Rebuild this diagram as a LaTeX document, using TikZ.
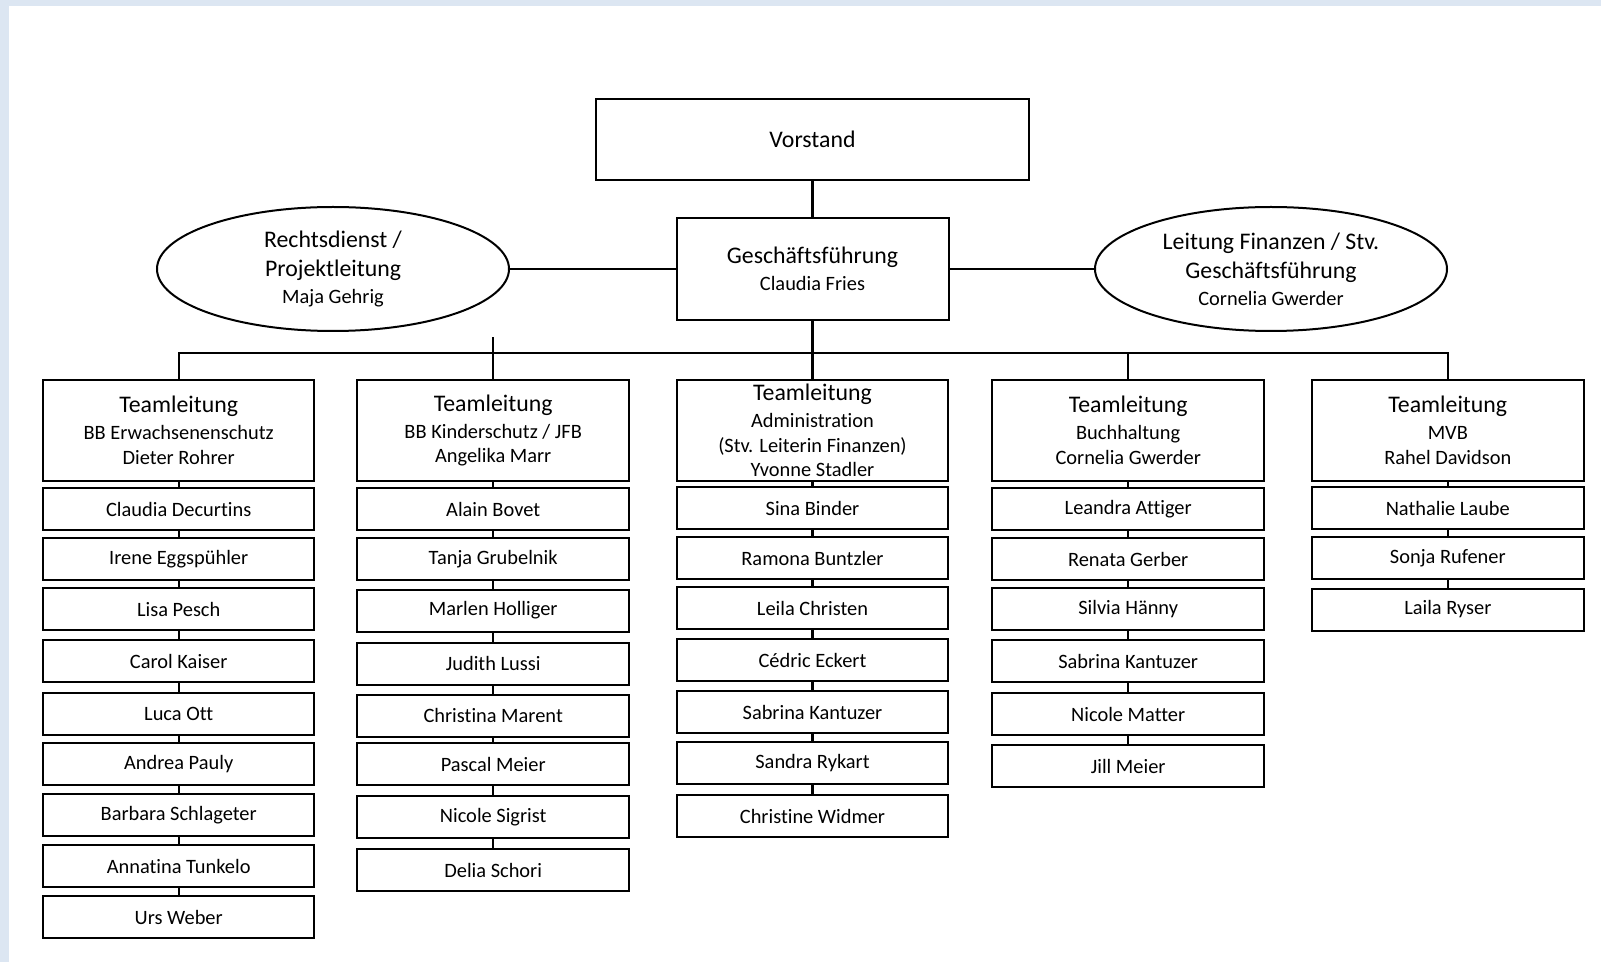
\documentclass[tikz,border=0pt]{standalone}
\usepackage{fontspec}
\setmainfont{Carlito}[Ligatures={CommonOff,ContextualOff}, Contextuals=AlternateOff]
\usetikzlibrary{shapes.geometric}

\definecolor{frameblue}{HTML}{DCE6F2}
\newcommand{\headfont}{\fontsize{11.9}{14.5}\selectfont}
\newcommand{\namefont}{\fontsize{10.2}{12.4}\selectfont}

\tikzset{
  unitbox/.style={draw, line width=1pt, align=center, inner sep=1pt},
  leadbox/.style={unitbox, minimum width=135.75pt, minimum height=50.5pt, font=\namefont},
  member/.style={unitbox, minimum width=135.75pt, minimum height=21pt, font=\namefont},
  oval/.style={ellipse, draw, line width=1pt, minimum width=176pt, minimum height=62pt,
               inner sep=0pt, align=center, font=\headfont},
  link/.style={line width=1.2pt}
}

\begin{document}
\begin{tikzpicture}[x=0.5pt, y=-0.5pt]
  % frame
  \useasboundingbox (0,0) rectangle (1601,962);
  \fill[frameblue] (0,0) rectangle (1601,962);
  \fill[white] (9,6) rectangle (1601,962);

  % top
  \node[unitbox, minimum width=216.5pt, minimum height=40.5pt, font=\headfont] (vorstand) at (812.5,139.5) {Vorstand};
  \node[leadbox, minimum width=136pt, minimum height=51pt] (gf) at (812.5,269) {{\headfont Geschäftsführung}\\[1pt] Claudia Fries};
  \node[oval] (recht) at (333,269) {Rechtsdienst /\\ Projektleitung\\[-1pt] {\namefont Maja Gehrig}};
  \node[oval] (finanz) at (1271,269) {Leitung Finanzen / Stv.\\ Geschäftsführung\\[-1pt] {\namefont Cornelia Gwerder}};

  % team leads
  \node[leadbox] (tl1) at (178.7,430.5) {{\headfont Teamleitung}\\[1pt] BB Erwachsenenschutz\\ Dieter Rohrer};
  \node[leadbox] (tl2) at (493.2,430.5) {{\headfont Teamleitung}\\[1pt] BB Kinderschutz / JFB\\ Angelika Marr};
  \node[leadbox, inner ysep=0pt] (tl3) at (812.5,430.5) {{\headfont Teamleitung}\\[1pt] Administration\\ (Stv. Leiterin Finanzen)\\ Yvonne Stadler};
  \node[leadbox] (tl4) at (1128.2,430.5) {{\headfont Teamleitung}\\[1pt] Buchhaltung\\ Cornelia Gwerder};
  \node[leadbox] (tl5) at (1447.8,430.5) {{\headfont Teamleitung}\\[1pt] MVB\\ Rahel Davidson};

  % column 1
  \node[member] (m11) at (178.7,509) {Claudia Decurtins};
  \node[member] (m12) at (178.7,559) {Irene Eggspühler};
  \node[member] (m13) at (178.7,609) {Lisa Pesch};
  \node[member] (m14) at (178.7,661) {Carol Kaiser};
  \node[member] (m15) at (178.7,714) {Luca Ott};
  \node[member] (m16) at (178.7,764) {Andrea Pauly};
  \node[member] (m17) at (178.7,815) {Barbara Schlageter};
  \node[member] (m18) at (178.7,866) {Annatina Tunkelo};
  \node[member] (m19) at (178.7,917) {Urs Weber};

  % column 2
  \node[member] (m21) at (493.2,509) {Alain Bovet};
  \node[member] (m22) at (493.2,559) {Tanja Grubelnik};
  \node[member] (m23) at (493.2,610.5) {Marlen Holliger};
  \node[member] (m24) at (493.2,663.6) {Judith Lussi};
  \node[member] (m25) at (493.2,715.7) {Christina Marent};
  \node[member] (m26) at (493.2,764) {Pascal Meier};
  \node[member] (m27) at (493.2,817.3) {Nicole Sigrist};
  \node[member] (m28) at (493.2,870) {Delia Schori};

  % column 3
  \node[member] (m31) at (812.5,508) {Sina Binder};
  \node[member] (m32) at (812.5,558) {Ramona Buntzler};
  \node[member] (m33) at (812.5,608) {Leila Christen};
  \node[member] (m34) at (812.5,660) {Cédric Eckert};
  \node[member] (m35) at (812.5,712) {Sabrina Kantuzer};
  \node[member] (m36) at (812.5,763) {Sandra Rykart};
  \node[member] (m37) at (812.5,816) {Christine Widmer};

  % column 4
  \node[member] (m41) at (1128.2,509) {Leandra Attiger};
  \node[member] (m42) at (1128.2,559) {Renata Gerber};
  \node[member] (m43) at (1128.2,609) {Silvia Hänny};
  \node[member] (m44) at (1128.2,661) {Sabrina Kantuzer};
  \node[member] (m45) at (1128.2,714) {Nicole Matter};
  \node[member] (m46) at (1128.2,766) {Jill Meier};

  % column 5
  \node[member] (m51) at (1447.8,508) {Nathalie Laube};
  \node[member] (m52) at (1447.8,558) {Sonja Rufener};
  \node[member] (m53) at (1447.8,609.5) {Laila Ryser};

  % connectors
  \coordinate (bus) at (812.5,353);
  \coordinate (stub) at (493.2,337);
  \draw[link] (vorstand) -- (gf);
  \draw[link] (recht) -- (gf) -- (finanz);
  \draw[link] (gf) -- (tl3);
  \draw[link] (tl1.north) |- (bus) -| (tl5.north);
  \draw[link] (tl2.north) -- (stub);
  \draw[link] (tl4.north) -- (tl4.north |- bus);

  \draw[link] (tl1) -- (m11) -- (m12) -- (m13) -- (m14) -- (m15) -- (m16) -- (m17) -- (m18) -- (m19);
  \draw[link] (tl2) -- (m21) -- (m22) -- (m23) -- (m24) -- (m25) -- (m26) -- (m27) -- (m28);
  \draw[link] (tl3) -- (m31) -- (m32) -- (m33) -- (m34) -- (m35) -- (m36) -- (m37);
  \draw[link] (tl4) -- (m41) -- (m42) -- (m43) -- (m44) -- (m45) -- (m46);
  \draw[link] (tl5) -- (m51) -- (m52) -- (m53);
\end{tikzpicture}
\end{document}
